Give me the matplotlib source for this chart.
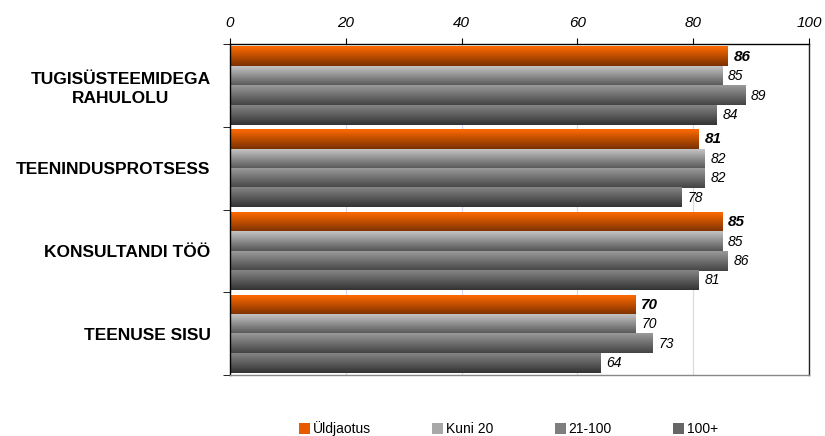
import numpy as np
import matplotlib
matplotlib.use("Agg")
import matplotlib.pyplot as plt
from matplotlib.colors import LinearSegmentedColormap
from matplotlib.patches import Patch

plt.rcParams['font.family'] = ['Liberation Sans', 'DejaVu Sans']

categories = ["TUGISÜSTEEMIDEGA\nRAHULOLU", "TEENINDUSPROTSESS", "KONSULTANDI TÖÖ", "TEENUSE SISU"]
series_names = ["Üldjaotus", "Kuni 20", "21-100", "100+"]
uldjaotus = [86, 81, 85, 70]
kuni20 = [85, 82, 85, 70]
s21_100 = [89, 82, 86, 73]
s100plus = [84, 78, 81, 64]
x_ticks = [0, 20, 40, 60, 80, 100]

series = [uldjaotus, kuni20, s21_100, s100plus]
grad_colors = [("#FF6A00", "#7A3000"),
               ("#C4C4C4", "#555555"),
               ("#9A9A9A", "#444444"),
               ("#858585", "#333333")]

fig = plt.figure(figsize=(8.25, 4.36), dpi=100)
ax = fig.add_axes([230/825, 1-375/436, (809-230)/825, (375-44)/436])

bh = 0.235
gap_top = 0.035
grad = np.linspace(0, 1, 64).reshape(-1, 1)
for ci in range(len(categories)):
    gtop = ci
    for si, vals in enumerate(series):
        v = vals[ci]
        y0 = gtop + gap_top + si * bh
        y1 = y0 + bh
        cmap = LinearSegmentedColormap.from_list("g%d" % si, [grad_colors[si][0], grad_colors[si][1]])
        ax.imshow(grad, extent=[0, v, y1, y0], origin='upper', aspect='auto', cmap=cmap,
                  interpolation='bilinear', zorder=2)
        if si == 0:
            ax.text(v + 1.0, (y0 + y1) / 2, f"{v}", va='center', ha='left', fontsize=11,
                    fontstyle='italic', fontweight='bold', zorder=3)
        else:
            ax.text(v + 1.0, (y0 + y1) / 2, f"{v}", va='center', ha='left', fontsize=10,
                    fontstyle='italic', zorder=3)

ax.set_xlim(0, 100)
ax.set_ylim(len(categories), 0)
ax.xaxis.tick_top()
ax.set_xticks(x_ticks)
ax.set_xticklabels([str(t) for t in x_ticks], fontstyle='italic', fontsize=11)
ax.tick_params(axis='x', direction='out', length=4, pad=6, color='black')
ax.grid(axis='x', color='#D8D8F0', linewidth=0.9, zorder=0)
ax.set_axisbelow(True)

ax.set_yticks([i + 0.5 for i in range(len(categories))])
ax.set_yticklabels(categories, fontweight='bold', fontsize=12.5, linespacing=1.35)
for lab in ax.get_yticklabels():
    lab.set_multialignment('center')
ax.tick_params(axis='y', length=0, pad=14)
ax.set_yticks(range(len(categories) + 1), minor=True)
ax.tick_params(axis='y', which='minor', direction='out', length=5, color='black')

ax.spines['top'].set_color('black')
ax.spines['left'].set_color('black')
ax.spines['right'].set_color('#222222')
ax.spines['bottom'].set_color('#888888')
for s in ax.spines.values():
    s.set_linewidth(1.0)

handles = [Patch(facecolor=c, edgecolor='none') for c in ["#E85A00", "#A8A8A8", "#7E7E7E", "#666666"]]
leg = fig.legend(handles, series_names, loc='center left', bbox_to_anchor=(299/825, 1-429/436), ncol=4,
                 frameon=False, fontsize=10, handlelength=0.8, handleheight=0.8,
                 handletextpad=0.2, columnspacing=4.4, borderaxespad=0, borderpad=0)

fig.savefig("out.png", dpi=100)
